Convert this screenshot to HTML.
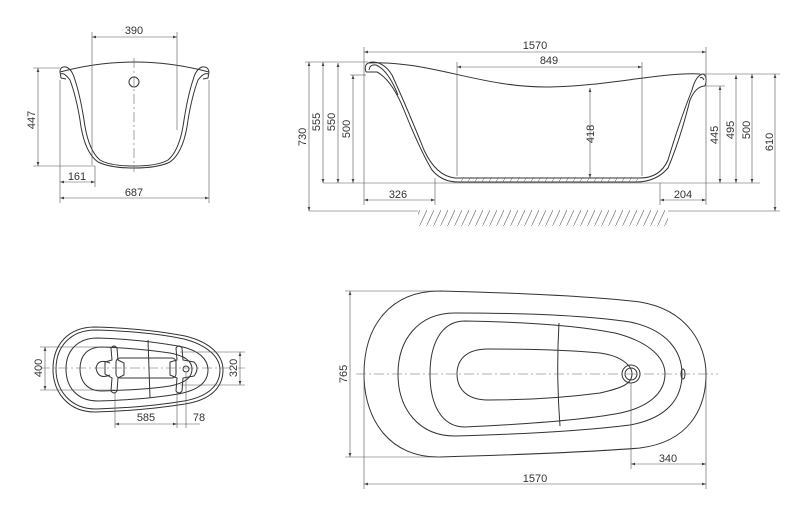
<!DOCTYPE html>
<html><head><meta charset="utf-8"><style>
html,body{margin:0;padding:0;background:#fff;width:800px;height:522px;overflow:hidden}
svg{display:block}
text{font-family:"Liberation Sans",sans-serif;font-size:11px;fill:#333}
.o{fill:none;stroke:#333;stroke-width:1}
.t{fill:none;stroke:#555;stroke-width:0.6}
.d{fill:none;stroke:#555;stroke-width:0.6;marker-start:url(#a);marker-end:url(#a)}
.c{fill:none;stroke:#666;stroke-width:0.6;stroke-dasharray:10 3 2 3}
</style></head><body>
<svg width="800" height="522" viewBox="0 0 800 522">
<defs>
<marker id="a" viewBox="0 0 10 10" refX="10" refY="5" markerWidth="6" markerHeight="4" orient="auto-start-reverse" markerUnits="userSpaceOnUse"><path d="M0,1.5 L10,5 L0,8.5z" fill="#444"/></marker>
<pattern id="h" width="7" height="15" patternUnits="userSpaceOnUse"><path d="M0,15 L7,0" stroke="#777" stroke-width="0.7"/></pattern>
</defs>

<!-- ===== Top-left end view ===== -->
<path class="o" d="M60,72 Q134,52 209,72"/>
<path class="o" d="M60,72 Q60,66 66,67 Q72,69 75,80 Q80,95 84,120 Q88,150 100,160 Q110,166 134,166 Q158,166 168,160 Q180,150 184,120 Q188,95 193,80 Q196,69 202,67 Q208,66 209,72"/>
<path class="o" d="M61,74 Q64,72 70,80 Q76,96 80,120 Q84,152 98,162 Q110,168 134,168 Q158,168 170,162 Q184,152 188,120 Q192,96 198,80 Q204,72 208,74"/>
<path class="o" d="M60,72 L61,78 L66,79"/>
<path class="o" d="M209,72 L208,78 L203,79"/>
<circle class="o" cx="134" cy="82" r="5"/>
<line class="c" x1="134" y1="58" x2="134" y2="172"/>
<line class="t" x1="92" y1="32" x2="92" y2="165"/>
<line class="t" x1="177" y1="32" x2="177" y2="130"/>
<line class="d" x1="92" y1="37" x2="177" y2="37"/>
<text x="134" y="34" text-anchor="middle">390</text>
<line class="t" x1="33" y1="68" x2="60" y2="68"/>
<line class="t" x1="33" y1="166" x2="95" y2="166"/>
<line class="d" x1="38" y1="68" x2="38" y2="166"/>
<text transform="translate(35,120) rotate(-90)" text-anchor="middle">447</text>
<line class="t" x1="60" y1="80" x2="60" y2="203"/>
<line class="t" x1="95" y1="166" x2="95" y2="187"/>
<line class="t" x1="209" y1="80" x2="209" y2="203"/>
<line class="d" x1="60" y1="182" x2="95" y2="182"/>
<text x="77" y="180" text-anchor="middle">161</text>
<line class="d" x1="60" y1="198" x2="209" y2="198"/>
<text x="134" y="196" text-anchor="middle">687</text>

<!-- ===== Top-right side view ===== -->
<path class="o" d="M368,63 C430,60 480,88 550,87 C610,86 660,72 700,74"/>
<path class="o" d="M366,72 Q363,63 372,62 Q384,62 392,75 Q408,110 424,150 Q436,176 455,178 L640,178 Q660,178 668,160 Q680,120 692,90 Q696,75 703,74 Q708,76 705,86"/>
<path class="o" d="M366,72 L377,72 Q392,80 404,110 Q420,150 432,170 Q442,182 458,182 L636,182 Q656,182 668,168 Q680,140 690,100 Q696,86 705,86"/>
<path class="o" d="M369,70 Q370,64 376,65 Q388,70 398,95 M700,78 Q702,76 704,80"/>
<rect x="460" y="177" width="178" height="5" fill="url(#h)" stroke="none"/>
<line class="t" x1="323" y1="183" x2="760" y2="183"/>
<line class="t" x1="309" y1="211" x2="418" y2="211"/>
<line class="t" x1="668" y1="211" x2="780" y2="211"/>
<rect x="418" y="210" width="250" height="16" fill="url(#h)"/>
<line class="t" x1="364" y1="47" x2="364" y2="205"/>
<line class="t" x1="706" y1="47" x2="706" y2="205"/>
<line class="d" x1="364" y1="52" x2="706" y2="52"/>
<text x="535" y="49" text-anchor="middle">1570</text>
<line class="t" x1="457" y1="62" x2="457" y2="176"/>
<line class="t" x1="642" y1="62" x2="642" y2="176"/>
<line class="d" x1="457" y1="67" x2="642" y2="67"/>
<text x="549" y="64" text-anchor="middle">849</text>
<line class="d" x1="590" y1="88" x2="590" y2="178"/>
<text transform="translate(594,134) rotate(-90)" text-anchor="middle">418</text>
<line class="t" x1="305" y1="62" x2="368" y2="62"/>
<line class="t" x1="350" y1="75" x2="366" y2="75"/>
<line class="d" x1="309" y1="62" x2="309" y2="211"/>
<text transform="translate(306,137) rotate(-90)" text-anchor="middle">730</text>
<line class="d" x1="323" y1="62" x2="323" y2="183"/>
<text transform="translate(320,122) rotate(-90)" text-anchor="middle">555</text>
<line class="d" x1="338" y1="63" x2="338" y2="183"/>
<text transform="translate(335,122) rotate(-90)" text-anchor="middle">550</text>
<line class="d" x1="353" y1="75" x2="353" y2="183"/>
<text transform="translate(350,129) rotate(-90)" text-anchor="middle">500</text>
<line class="t" x1="435" y1="178" x2="435" y2="205"/>
<line class="d" x1="364" y1="200" x2="435" y2="200"/>
<text x="398" y="198" text-anchor="middle">326</text>
<line class="t" x1="660" y1="183" x2="660" y2="205"/>
<line class="d" x1="660" y1="200" x2="706" y2="200"/>
<text x="683" y="198" text-anchor="middle">204</text>
<line class="t" x1="700" y1="74" x2="780" y2="74"/>
<line class="t" x1="706" y1="86" x2="725" y2="86"/>
<line class="d" x1="720" y1="86" x2="720" y2="183"/>
<text transform="translate(718,135) rotate(-90)" text-anchor="middle">445</text>
<line class="d" x1="736" y1="75" x2="736" y2="183"/>
<text transform="translate(734,130) rotate(-90)" text-anchor="middle">495</text>
<line class="d" x1="752" y1="74" x2="752" y2="183"/>
<text transform="translate(750,130) rotate(-90)" text-anchor="middle">500</text>
<line class="d" x1="775" y1="74" x2="775" y2="211"/>
<text transform="translate(773,142) rotate(-90)" text-anchor="middle">610</text>

<!-- ===== Bottom-left top view small ===== -->
<path class="o" d="M95,327 C130,328 160,331 185,336 C210,342 223,355 223,370 C223,388 210,400 185,404 C160,408 130,411 95,412 C68,412 53,392 53,369 C53,345 68,327 95,327z"/>
<path class="o" d="M96,330 C130,331 160,334 184,339 C207,345 220,357 220,370 C220,386 207,397 184,401 C160,405 130,408 96,409 C70,409 56,390 56,369 C56,347 70,330 96,330z"/>
<path class="o" d="M98,338 C130,339 155,342 178,346 C200,350 208,360 208,370 C208,381 200,390 178,394 C155,398 130,400 98,401 C76,401 66,386 66,369 C66,352 76,338 98,338z"/>
<path class="o" d="M102,347 C130,348 150,350 170,353 C186,356 192,362 192,369 C192,377 186,383 170,386 C150,389 130,390 102,391 C87,391 80,381 80,369 C80,356 87,347 102,347z"/>
<line class="o" x1="148" y1="340" x2="150" y2="398"/>
<path class="o" d="M110,363 Q98,358 96,368 Q98,380 110,375"/>
<rect class="o" x="116" y="358" width="60" height="20" rx="4" fill="#fff"/>
<path class="o" d="M111,348 Q114,344 117,348 L118,360 L124,363 L124,375 L118,378 L117,391 Q114,395 111,391 L112,378 L105,374 L105,362 L112,360z" fill="#fff"/>
<path class="o" d="M176,348 Q179,344 182,348 L183,360 L194,362 Q200,368 194,376 L183,378 L182,391 Q179,395 176,391 L177,378 L170,375 L170,362 L177,360z" fill="#fff"/>
<circle class="o" cx="186" cy="369" r="3"/>
<line class="c" x1="40" y1="368" x2="245" y2="368"/>
<line class="t" x1="40" y1="347" x2="115" y2="347"/>
<line class="t" x1="40" y1="390" x2="115" y2="390"/>
<line class="d" x1="45" y1="347" x2="45" y2="390"/>
<text transform="translate(42,368) rotate(-90)" text-anchor="middle">400</text>
<line class="t" x1="180" y1="352" x2="245" y2="352"/>
<line class="t" x1="180" y1="385" x2="245" y2="385"/>
<line class="d" x1="240" y1="352" x2="240" y2="385"/>
<text transform="translate(237,368) rotate(-90)" text-anchor="middle">320</text>
<line class="t" x1="115" y1="392" x2="115" y2="428"/>
<line class="t" x1="177" y1="392" x2="177" y2="428"/>
<line class="t" x1="186" y1="373" x2="186" y2="428"/>
<line class="d" x1="115" y1="424" x2="177" y2="424"/>
<text x="146" y="421" text-anchor="middle">585</text>
<line class="t" x1="177" y1="424" x2="200" y2="424"/>
<text x="199" y="421" text-anchor="middle">78</text>

<!-- ===== Bottom-right plan ===== -->
<path class="o" d="M440,291 C520,293 590,296 640,302 C688,310 706,345 706,374 C706,410 688,442 640,448 C590,452 510,455 440,457 C390,458 364,420 364,374 C364,326 390,291 440,291z"/>
<path class="o" d="M455,313 C530,313 590,316 630,322 C668,330 682,352 682,374 C682,398 668,418 630,425 C590,430 530,434 455,436 C418,436 398,408 398,374 C398,340 418,313 455,313z"/>
<path class="o" d="M465,321 C530,322 580,326 615,333 C650,342 665,358 665,374 C665,392 650,408 615,414 C580,420 530,424 465,427 C440,427 430,402 430,374 C430,346 440,321 465,321z"/>
<path class="o" d="M488,349 C530,349 570,350 600,353 C622,356 632,366 632,374 C632,384 622,388 600,393 C570,397 530,400 488,400 C466,400 457,388 457,374 C457,360 466,349 488,349z"/>
<path class="o" d="M559,323 Q556,374 560,426"/>
<circle class="o" cx="631" cy="374" r="9" fill="#fff"/>
<circle class="o" cx="631" cy="374" r="6"/>
<ellipse class="o" cx="683" cy="374" rx="2" ry="5"/>
<line class="c" x1="356" y1="374" x2="718" y2="374"/>
<line class="t" x1="345" y1="291" x2="440" y2="291"/>
<line class="t" x1="345" y1="457" x2="440" y2="457"/>
<line class="d" x1="350" y1="291" x2="350" y2="457"/>
<text transform="translate(347,374) rotate(-90)" text-anchor="middle">765</text>
<line class="t" x1="364" y1="374" x2="364" y2="489"/>
<line class="t" x1="706" y1="374" x2="706" y2="489"/>
<line class="t" x1="631" y1="383" x2="631" y2="469"/>
<line class="d" x1="631" y1="464" x2="706" y2="464"/>
<text x="668" y="462" text-anchor="middle">340</text>
<line class="d" x1="364" y1="484" x2="706" y2="484"/>
<text x="535" y="482" text-anchor="middle">1570</text>
</svg>
</body></html>
